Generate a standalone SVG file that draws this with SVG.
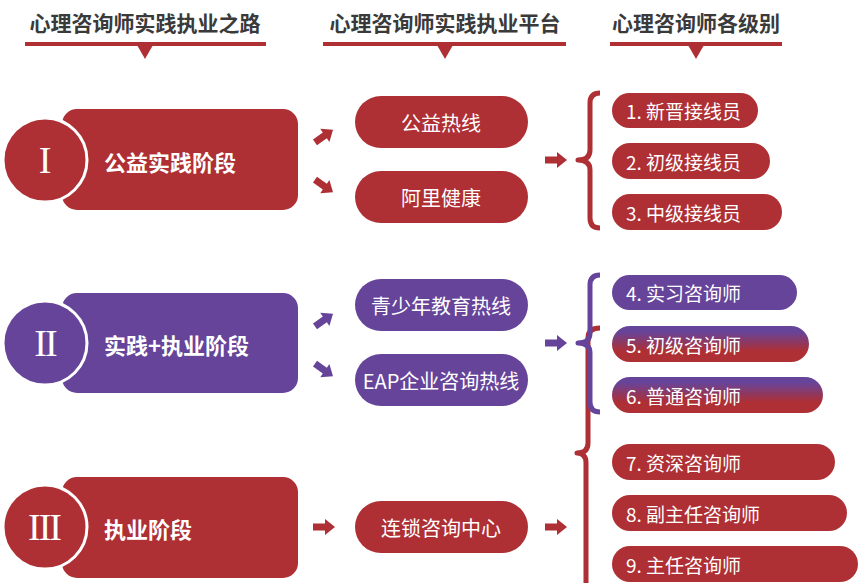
<svg xmlns="http://www.w3.org/2000/svg" width="860" height="583" viewBox="0 0 860 583">
<style>
.hd{font-family:"Noto Sans CJK SC","Noto Sans",sans-serif;font-size:21px;font-weight:700;fill:#3a3a3a;text-anchor:middle;dominant-baseline:central}
.red{fill:#ae2f34}
.pur{fill:#66449a}
.rom{font-family:"Liberation Serif",serif;font-size:38px;fill:#fff;text-anchor:middle;dominant-baseline:central}
.st{font-family:"Noto Sans CJK SC","Noto Sans",sans-serif;font-size:22px;font-weight:700;fill:#fff;dominant-baseline:central}
.mid{font-family:"Noto Sans CJK SC","Noto Sans",sans-serif;font-size:20px;fill:#fff;text-anchor:middle;dominant-baseline:central}
.lv{font-family:"Noto Sans CJK SC","Noto Sans",sans-serif;font-size:19px;fill:#fff;dominant-baseline:central}
.ring{stroke:#fff;stroke-width:3}
.brR{fill:none;stroke:#ae2f34;stroke-width:5;stroke-linejoin:round}
.brP{fill:none;stroke:#66449a;stroke-width:5;stroke-linejoin:round}
</style>
<defs>
<path id="arr" d="M-11,-3.5 L1,-3.5 L1,-8 L11,0 L1,8 L1,3.5 L-11,3.5 Z"/>
<linearGradient id="pr" x1="0" y1="0" x2="0" y2="1">
<stop offset="0.15" stop-color="#66449a"/>
<stop offset="0.7" stop-color="#ae2f34"/>
</linearGradient>
</defs>
<rect width="860" height="583" fill="#fff"/>

<g id="headers">
<text class="hd" x="145" y="22">心理咨询师实践执业之路</text>
<rect class="red" x="25" y="42" width="241" height="4"/>
<polygon class="red" points="137,45 153,45 145,59"/>
<text class="hd" x="445" y="22">心理咨询师实践执业平台</text>
<rect class="red" x="323" y="42" width="243" height="4"/>
<polygon class="red" points="437,45 453,45 445,59"/>
<text class="hd" x="696" y="22">心理咨询师各级别</text>
<rect class="red" x="610" y="42" width="172" height="4"/>
<polygon class="red" points="688,45 704,45 696,59"/>
</g>

<g id="stage1">
<rect class="red" x="62" y="109" width="236" height="101" rx="15"/>
<circle class="red ring" cx="45" cy="160" r="42"/>
<text class="rom" x="45" y="160">I</text>
<text class="st" x="104" y="161">公益实践阶段</text>
</g>
<g id="stage2">
<rect class="pur" x="62" y="293" width="236" height="100" rx="15"/>
<circle class="pur ring" cx="45" cy="343" r="42"/>
<text class="rom" x="45" y="343" letter-spacing="-2">II</text>
<text class="st" x="104" y="344">实践+执业阶段</text>
</g>
<g id="stage3">
<rect class="red" x="62" y="477" width="236" height="101" rx="15"/>
<circle class="red ring" cx="45" cy="527" r="42"/>
<text class="rom" x="44" y="527" letter-spacing="-2">III</text>
<text class="st" x="104" y="528">执业阶段</text>
</g>

<g id="p-gongyi"><rect class="red" x="355" y="96" width="173" height="52" rx="26"/><text class="mid" x="441" y="122">公益热线</text></g>
<g id="p-ali"><rect class="red" x="355" y="171" width="173" height="52" rx="26"/><text class="mid" x="441" y="197">阿里健康</text></g>
<g id="p-qsn"><rect class="pur" x="355" y="279" width="173" height="52" rx="26"/><text class="mid" x="441" y="305">青少年教育热线</text></g>
<g id="p-eap"><rect class="pur" x="355" y="354" width="173" height="52" rx="26"/><text class="mid" x="441" y="380">EAP企业咨询热线</text></g>
<g id="p-liansuo"><rect class="red" x="355" y="501" width="173" height="52" rx="26"/><text class="mid" x="441" y="527">连锁咨询中心</text></g>

<g id="l1"><rect class="red" x="612" y="93" width="146" height="35" rx="17.5"/><text class="lv" x="626" y="110.5">1. 新晋接线员</text></g>
<g id="l2"><rect class="red" x="612" y="143" width="158" height="36" rx="18"/><text class="lv" x="626" y="161">2. 初级接线员</text></g>
<g id="l3"><rect class="red" x="612" y="194" width="170" height="36" rx="18"/><text class="lv" x="626" y="212">3. 中级接线员</text></g>
<g id="l4"><rect class="pur" x="612" y="275" width="185" height="35" rx="17.5"/><text class="lv" x="626" y="292.5">4. 实习咨询师</text></g>
<g id="l5"><rect fill="url(#pr)" x="612" y="326" width="197" height="36" rx="18"/><text class="lv" x="626" y="344">5. 初级咨询师</text></g>
<g id="l6"><rect fill="url(#pr)" x="612" y="377" width="211" height="36" rx="18"/><text class="lv" x="626" y="395">6. 普通咨询师</text></g>
<g id="l7"><rect class="red" x="612" y="444" width="223" height="36" rx="18"/><text class="lv" x="626" y="462">7. 资深咨询师</text></g>
<g id="l8"><rect class="red" x="612" y="495" width="235" height="36" rx="18"/><text class="lv" x="626" y="513">8. 副主任咨询师</text></g>
<g id="l9"><rect class="red" x="612" y="546" width="246" height="36" rx="18"/><text class="lv" x="626" y="564">9. 主任咨询师</text></g>

<g id="connectors">
<use href="#arr" class="red" transform="translate(324,136) rotate(-35)"/>
<use href="#arr" class="red" transform="translate(324,186) rotate(35)"/>
<use href="#arr" class="pur" transform="translate(324,320) rotate(-35)"/>
<use href="#arr" class="pur" transform="translate(324,370) rotate(35)"/>
<use href="#arr" class="red" transform="translate(324,527)"/>
<use href="#arr" class="red" transform="translate(556,160)"/>
<use href="#arr" class="pur" transform="translate(556,343)"/>
<use href="#arr" class="red" transform="translate(556,527)"/>
<path class="brR" d="M600,93 Q590,93 590,103 L590,150 Q590,160 578,160 Q590,160 590,170 L590,218 Q590,228 600,228"/>
<path class="brR" d="M600,328 Q588,328 588,338 L588,443 Q588,453 577,453 Q586,453 586,463 L586,590"/>
<path class="brP" d="M600,275 Q590,275 590,285 L590,333 Q590,343 578,343 Q590,343 590,353 L590,402 Q590,412 600,412"/>
</g>
</svg>
